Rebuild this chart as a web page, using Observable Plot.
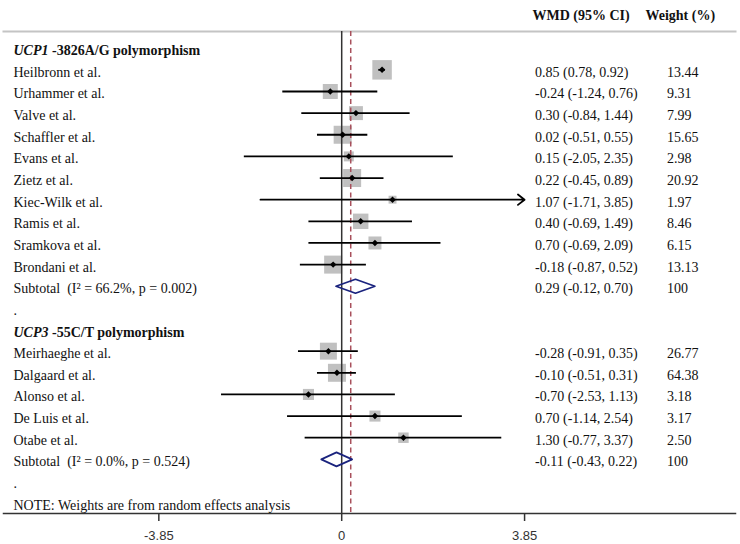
<!DOCTYPE html>
<html><head><meta charset="utf-8">
<script src="https://cdn.jsdelivr.net/npm/d3@7"></script>
<script src="https://cdn.jsdelivr.net/npm/@observablehq/plot@0.6"></script>
<style>html,body{margin:0;padding:0;background:#fff} svg{display:block}</style>
</head><body><div id="chart"></div>
<script>
// ---- data ----
const groupNames = ["UCP1 -3826A/G polymorphism", "UCP3 -55C/T polymorphism"];
const studyNames = ["Heilbronn et al.", "Urhammer et al.", "Valve et al.", "Schaffler et al.", "Evans et al.",
  "Zietz et al.", "Kiec-Wilk et al.", "Ramis et al.", "Sramkova et al.", "Brondani et al.",
  "Meirhaeghe et al.", "Dalgaard et al.", "Alonso et al.", "De Luis et al.", "Otabe et al."];
const studyGroup = [0,0,0,0,0,0,0,0,0,0,1,1,1,1,1];
const wmd    = [0.85, -0.24, 0.30, 0.02, 0.15, 0.22, 1.07, 0.40, 0.70, -0.18, -0.28, -0.10, -0.70, 0.70, 1.30];
const ciLow  = [0.78, -1.24, -0.84, -0.51, -2.05, -0.45, -1.71, -0.69, -0.69, -0.87, -0.91, -0.51, -2.53, -1.14, -0.77];
const ciHigh = [0.92, 0.76, 1.44, 0.55, 2.35, 0.89, 3.85, 1.49, 2.09, 0.52, 0.35, 0.31, 1.13, 2.54, 3.37];
const weightPct = [13.44, 9.31, 7.99, 15.65, 2.98, 20.92, 1.97, 8.46, 6.15, 13.13, 26.77, 64.38, 3.18, 3.17, 2.50];
// overall (whole-analysis) weights
const boxWeight = [11.5, 6.8, 5.9, 9.8, 3.0, 9.8, 1.9, 7.2, 5.1, 9.8, 8.7, 9.8, 3.7, 3.7, 3.3];
const subtotalWMD  = [0.29, -0.11];
const subtotalLow  = [-0.12, -0.43];
const subtotalHigh = [0.70, 0.22];
const subtotalI2   = ["66.2%", "0.0%"];
const subtotalP    = ["0.002", "0.524"];
const pooledWMD = 0.19;
const axisTicks = [-3.85, 0, 3.85];
const noteText = "NOTE: Weights are from random effects analysis";
const headerCI = "WMD (95% CI)";
const headerWeight = "Weight (%)";

// ---- build table ----
const rows = [];
let r = 0;
groupNames.forEach((g, gi) => {
  rows.push({row: r++, label: g, kind: "header"});
  studyNames.forEach((s, i) => {
    if (studyGroup[i] !== gi) return;
    rows.push({row: r++, label: s, kind: "study", est: wmd[i], lo: ciLow[i], hi: ciHigh[i],
      w: weightPct[i].toFixed(2), bw: boxWeight[i]});
  });
  rows.push({row: r++, label: `Subtotal\u00a0 (I\u00b2 = ${subtotalI2[gi]}, p = ${subtotalP[gi]})`, kind: "subtotal",
    est: subtotalWMD[gi], lo: subtotalLow[gi], hi: subtotalHigh[gi], w: "100"});
  rows.push({row: r++, label: ".", kind: "blank"});
});
rows.push({row: r++, label: noteText, kind: "note"});

const studies = rows.filter(d => d.kind === "study");
const subtotals = rows.filter(d => d.kind === "subtotal");
const xClip = d3.max(axisTicks);
const f2 = v => v.toFixed(2);

// ---- layout constants ----
const W = 740, H = 544;
const mL = 3, mR = 5, mT = 31, mB = 31;
const zeroPx = 341.2, pxPerUnit = 47.5;
const rowTopPx = 47.7, rowPx = 21.64;
const xDomain = [(mL - zeroPx) / pxPerUnit, (W - mR - zeroPx) / pxPerUnit];
const yDomain = [(mT - rowTopPx) / rowPx, (H - mB - rowTopPx) / rowPx];
const diamondHalf = 7 / rowPx;

const diamondPts = subtotals.flatMap(d => [
  {x: d.lo, y: d.row, z: d.row}, {x: d.est, y: d.row - diamondHalf, z: d.row},
  {x: d.hi, y: d.row, z: d.row}, {x: d.est, y: d.row + diamondHalf, z: d.row}]);

const serif = "Liberation Serif, Times New Roman, serif";
const textCommon = {y: "row", frameAnchor: "left", textAnchor: "start", dy: 2.5, fontSize: 14, fontFamily: serif, fill: "#111"};

const chart = Plot.plot({
  width: W, height: H,
  marginLeft: mL, marginRight: mR, marginTop: mT, marginBottom: mB,
  x: {domain: xDomain, axis: null},
  y: {domain: yDomain, reverse: true, axis: null},
  r: {domain: [0, d3.max(boxWeight)], range: [0, 11]},
  marks: [
    Plot.frame({anchor: "top", stroke: "#c4c4c4", strokeWidth: 2}),
    Plot.frame({anchor: "bottom", stroke: "#333", strokeWidth: 1.5}),
    Plot.axisX(axisTicks, {anchor: "bottom", tickSize: 8, tickPadding: 9, strokeWidth: 1.5,
      tickFormat: d => d === 0 ? "0" : f2(d), fontSize: 13, fontFamily: "Liberation Sans, Arial, sans-serif",
      color: "#333", label: null}),
    Plot.dot(studies, {x: "est", y: "row", r: "bw", symbol: "square", fill: "#c0c0c0", stroke: "none"}),
    Plot.ruleX([0], {stroke: "#333", strokeWidth: 1.5}),
    Plot.ruleX([pooledWMD], {stroke: "#a8505c", strokeWidth: 1.5, strokeDasharray: "5,3.5"}),
    Plot.ruleY(studies.filter(d => d.hi < xClip), {y: "row", x1: "lo", x2: "hi", stroke: "#000", strokeWidth: 1.8}),
    Plot.arrow(studies.filter(d => d.hi >= xClip), {x1: "lo", x2: d => Math.min(d.hi, xClip), y1: "row", y2: "row",
      stroke: "#000", strokeWidth: 1.8, headLength: 7, headAngle: 76, bend: 0}),
    Plot.dot(studies, {x: "est", y: "row", symbol: "diamond2", r: 2.9, fill: "#000", stroke: "none"}),
    Plot.line(diamondPts, {x: "x", y: "y", z: "z", curve: "linear-closed", stroke: "#1a237e", strokeWidth: 1.7}),
    Plot.text(rows.filter(d => d.kind !== "header"), {...textCommon, text: "label", dx: 10}),
    Plot.text(rows.filter(d => d.kind === "header"), {...textCommon, text: "label", dx: 10, fontWeight: "bold"}),
    Plot.text(rows.filter(d => d.est !== undefined), {...textCommon, text: d => `${f2(d.est)} (${f2(d.lo)}, ${f2(d.hi)})`, dx: 531.5}),
    Plot.text(rows.filter(d => d.w !== undefined), {...textCommon, text: "w", dx: 663.5}),
    Plot.text([headerCI], {frameAnchor: "top-left", textAnchor: "start", dx: 529, dy: -21.5, text: d => d,
      fontSize: 14, fontFamily: serif, fontWeight: "bold", fill: "#111"}),
    Plot.text([headerWeight], {frameAnchor: "top-left", textAnchor: "start", dx: 642, dy: -21.5, text: d => d,
      fontSize: 14, fontFamily: serif, fontWeight: "bold", fill: "#111"})
  ]
});

// italicise gene names in group headers
d3.select(chart).selectAll("text").each(function () {
  const m = this.textContent.match(/^(UCP\d)( .*)$/);
  if (m && this.childElementCount === 0) {
    this.textContent = "";
    d3.select(this).append("tspan").attr("font-style", "italic").text(m[1]);
    d3.select(this).append("tspan").text(m[2]);
  }
});
document.getElementById("chart").appendChild(chart);
</script></body></html>
